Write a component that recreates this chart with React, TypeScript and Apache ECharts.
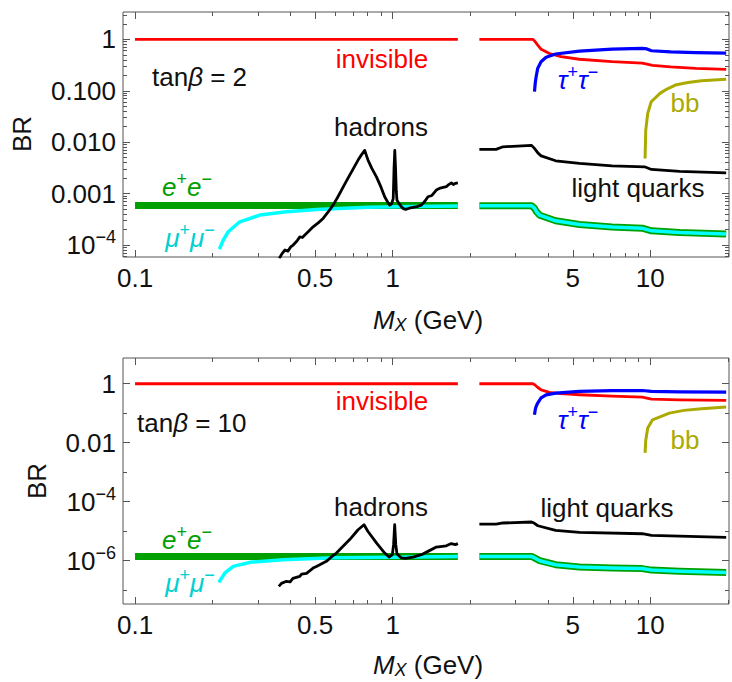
import React, { useEffect, useRef } from 'react';
import * as echarts from 'echarts';

const FONT = '"Liberation Sans", Arial, Helvetica, sans-serif';

// axis ranges (data units)
const X_MIN = 0.0898;
const X_MAX = 20.2;
const Y_TOP_MIN = 5.85e-5;
const Y_TOP_MAX = 3.4;
const Y_BOT_MIN = 3.4e-8;
const Y_BOT_MAX = 7.46;

// ticks
const xMajorTicks = [0.1, 0.5, 1, 5, 10];
const xMajorLabels = ['0.1', '0.5', '1', '5', '10'];
const xMinorTicks = [0.2, 0.3, 0.4, 0.6, 0.7, 0.8, 0.9, 2, 3, 4, 6, 7, 8, 9, 20];

const yTopMajorTicks = [1e-4, 1e-3, 1e-2, 1e-1, 1];
const yTopMajorLabels = ['{b|10}{s|−4}', '0.001', '0.010', '0.100', '1'];
const yTopMinorMantissas = [2, 3, 4, 5, 6, 7, 8, 9];
const yTopMinorDecades = [1e-5, 1e-4, 1e-3, 1e-2, 1e-1, 1];

const yBotMajorTicks = [1e-6, 1e-4, 1e-2, 1];
const yBotMajorLabels = ['{b|10}{s|−6}', '{b|10}{s|−4}', '0.01', '1'];
const yBotMinorTicks = [1e-7, 1e-5, 1e-3, 1e-1];

// ---------- tan(beta) = 2 (top panel) : [M_X (GeV), BR] ----------
const invisibleTopLow = [[0.1, 1], [1.79, 1]];
const invisibleTopHigh = [[2.17, 1], [3.5, 1], [3.56, 0.92], [3.65, 0.78], [3.77, 0.64], [4.06, 0.53], [4.5, 0.46], [5.3, 0.41], [7.1, 0.367], [9.3, 0.345], [9.7, 0.33], [10.2, 0.313], [12, 0.29], [15, 0.272], [19.7, 0.261]];
const tauTop = [[3.551, 0.096], [3.58, 0.15], [3.604, 0.187], [3.655, 0.272], [3.766, 0.367], [3.94, 0.447], [4.29, 0.518], [5.31, 0.59], [7.1, 0.647], [9.3, 0.667], [9.7, 0.65], [10.1, 0.6], [12, 0.57], [15, 0.55], [19.7, 0.541]];
const bbTop = [[9.54, 0.0048], [9.6, 0.0172], [9.77, 0.0363], [10.08, 0.061], [10.9, 0.089], [11.6, 0.108], [12.5, 0.129], [14, 0.145], [15.8, 0.157], [19.7, 0.167]];
const lightTop = [[2.17, 0.00724], [2.52, 0.00724], [2.68, 0.00814], [3.46, 0.00867], [3.55, 0.00757], [3.66, 0.0062], [3.77, 0.0054], [4.29, 0.00435], [5.31, 0.00387], [7.1, 0.00347], [9.5, 0.00332], [10.1, 0.00295], [13, 0.0027], [19.7, 0.00254]];
const hadronsTop = [[0.363, 5.5e-5], [0.372, 6.8e-5], [0.382, 8.0e-5], [0.392, 7.6e-5], [0.402, 9.2e-5], [0.411, 1.0e-4], [0.425, 1.2e-4], [0.436, 1.44e-4], [0.446, 1.4e-4], [0.456, 1.56e-4], [0.472, 1.85e-4], [0.491, 2.26e-4], [0.514, 2.7e-4], [0.537, 3.29e-4], [0.56, 4.3e-4], [0.587, 5.97e-4], [0.61, 8.3e-4], [0.633, 1.17e-3], [0.657, 1.65e-3], [0.681, 2.29e-3], [0.707, 3.2e-3], [0.734, 4.49e-3], [0.755, 5.6e-3], [0.779, 6.9e-3], [0.79, 5.6e-3], [0.802, 4.49e-3], [0.83, 3.1e-3], [0.865, 2.12e-3], [0.9, 1.35e-3], [0.931, 8.67e-4], [0.96, 6.6e-4], [0.974, 5.97e-4], [0.99, 6.3e-4], [1.005, 8e-4], [1.012, 3.0e-3], [1.019, 6.9e-3], [1.026, 3.0e-3], [1.033, 1.1e-3], [1.039, 7.48e-4], [1.06, 6.3e-4], [1.081, 5.54e-4], [1.1, 5.1e-4], [1.123, 4.93e-4], [1.16, 5.2e-4], [1.199, 5.4e-4], [1.24, 5.6e-4], [1.292, 5.97e-4], [1.33, 7e-4], [1.371, 8.67e-4], [1.42, 9.2e-4], [1.477, 1.17e-3], [1.53, 1.28e-3], [1.615, 1.36e-3], [1.65, 1.5e-3], [1.689, 1.62e-3], [1.72, 1.5e-3], [1.75, 1.58e-3], [1.791, 1.62e-3]];
const eeTopLow = [[0.1, 5.9e-4], [1.79, 5.9e-4]];
const eeTopHigh = [[2.17, 5.8e-4], [3.46, 5.8e-4], [3.55, 5.2e-4], [3.62, 4.4e-4], [3.72, 3.8e-4], [4.29, 2.96e-4], [5.31, 2.51e-4], [7.1, 2.25e-4], [9.3, 2.13e-4], [10.1, 1.89e-4], [13, 1.75e-4], [19.7, 1.63e-4]];
const muTopLow = [[0.2125, 8.3e-5], [0.22, 1.25e-4], [0.23, 1.81e-4], [0.255, 2.83e-4], [0.305, 3.82e-4], [0.387, 4.43e-4], [0.506, 4.93e-4], [0.8, 5.4e-4], [1.2, 5.6e-4], [1.79, 5.75e-4]];
const muTopHigh = [[2.17, 5.8e-4], [3.46, 5.8e-4], [3.55, 5.2e-4], [3.62, 4.4e-4], [3.72, 3.8e-4], [4.29, 2.96e-4], [5.31, 2.51e-4], [7.1, 2.25e-4], [9.3, 2.13e-4], [10.1, 1.89e-4], [13, 1.75e-4], [19.7, 1.63e-4]];

// ---------- tan(beta) = 10 (bottom panel) ----------
const invisibleBotLow = [[0.1, 1], [1.79, 1]];
const invisibleBotHigh = [[2.17, 1], [3.5, 1], [3.56, 0.92], [3.65, 0.76], [3.77, 0.62], [4.06, 0.508], [4.5, 0.46], [5.31, 0.424], [7.1, 0.38], [9.3, 0.353], [10.1, 0.302], [13, 0.285], [19.7, 0.272]];
const tauBot = [[3.551, 0.089], [3.58, 0.14], [3.604, 0.17], [3.655, 0.222], [3.766, 0.33], [3.94, 0.42], [4.29, 0.483], [5.31, 0.55], [7.1, 0.58], [9.3, 0.59], [10.1, 0.55], [13, 0.53], [19.7, 0.52]];
const bbBot = [[9.54, 0.0045], [9.6, 0.012], [9.77, 0.0314], [10.2, 0.06], [11.85, 0.101], [13.5, 0.125], [15.8, 0.142], [19.7, 0.162]];
const lightBot = [[2.17, 1.75e-5], [2.52, 1.75e-5], [2.68, 1.9e-5], [3.46, 2.05e-5], [3.55, 1.85e-5], [3.66, 1.53e-5], [4.29, 1.06e-5], [5.31, 9.1e-6], [9.3, 8.2e-6], [10.1, 7.2e-6], [19.7, 6.2e-6]];
const hadronsBot = [[0.3615, 1.35e-7], [0.37, 1.7e-7], [0.387, 2.0e-7], [0.4, 1.9e-7], [0.41, 2.5e-7], [0.436, 2.95e-7], [0.443, 3.5e-7], [0.463, 3.7e-7], [0.491, 5.6e-7], [0.506, 6.4e-7], [0.553, 9.5e-7], [0.587, 1.5e-6], [0.605, 1.82e-6], [0.681, 5.2e-6], [0.734, 1.12e-5], [0.774, 1.66e-5], [0.802, 9.8e-6], [0.865, 4e-6], [0.931, 1.82e-6], [0.968, 1.33e-6], [0.997, 1.6e-6], [1.008, 3.5e-6], [1.018, 1.66e-5], [1.028, 3.5e-6], [1.039, 1.7e-6], [1.081, 1.24e-6], [1.123, 1.2e-6], [1.199, 1.33e-6], [1.292, 1.6e-6], [1.371, 2.07e-6], [1.477, 2.9e-6], [1.615, 3.2e-6], [1.689, 3.8e-6], [1.75, 3.5e-6], [1.791, 3.8e-6]];
const eeBotLow = [[0.1, 1.4e-6], [1.79, 1.4e-6]];
const eeBotHigh = [[2.17, 1.4e-6], [3.46, 1.4e-6], [3.55, 1.25e-6], [3.72, 1.0e-6], [4.29, 7.3e-7], [5.31, 6.1e-7], [7.1, 5.7e-7], [9.3, 5.4e-7], [10.1, 4.8e-7], [13, 4.4e-7], [19.7, 4.0e-7]];
const muBotLow = [[0.2114, 1.84e-7], [0.2234, 3.83e-7], [0.2404, 6.4e-7], [0.279, 8.8e-7], [0.376, 1.08e-6], [0.587, 1.26e-6], [1.0, 1.32e-6], [1.79, 1.38e-6]];
const muBotHigh = [[2.17, 1.4e-6], [3.46, 1.4e-6], [3.55, 1.25e-6], [3.72, 1.0e-6], [4.29, 7.3e-7], [5.31, 6.1e-7], [7.1, 5.7e-7], [9.3, 5.4e-7], [10.1, 4.8e-7], [13, 4.4e-7], [19.7, 4.0e-7]];

const RED = '#ff0000';
const BLUE = '#0000ff';
const GREEN = '#00a000';
const CYAN = '#00ffff';
const CYAN_TEXT = '#00d0d0';
const OLIVE = '#aaaa00';
const BLACK = '#000000';
const FRAME = '#555555';

const lg = (v: number) => Math.log10(v);

function pick(ticks: number[], labels: string[]) {
  return (v: number) => {
    let best = 0;
    let bd = Infinity;
    ticks.forEach((t, i) => {
      const d = Math.abs(t - v);
      if (d < bd) { bd = d; best = i; }
    });
    return labels[best];
  };
}

const labelStyle = { fontSize: 26, fontFamily: FONT, color: '#111' };
const axisRich = {
  b: { fontSize: 26, fontFamily: FONT, color: '#111', lineHeight: 34 },
  s: { fontSize: 18, fontFamily: FONT, color: '#111', lineHeight: 18, verticalAlign: 'top' },
};

function tick(vals: number[], len: number) {
  return { show: true, inside: true, length: len, customValues: vals, lineStyle: { color: FRAME, width: 1 } };
}

const noLine = { show: false, onZero: false };

function makeXAxes(gridIndex: number) {
  const base = { type: 'value', gridIndex, min: lg(X_MIN), max: lg(X_MAX), splitLine: { show: false }, axisLine: noLine };
  const major = xMajorTicks.map(lg);
  const minor = xMinorTicks.map(lg);
  return [
    { ...base, position: 'bottom', axisTick: tick(major, 7), axisLabel: { show: true, customValues: major, formatter: pick(major, xMajorLabels), margin: 8, ...labelStyle } },
    { ...base, position: 'bottom', axisTick: tick(minor, 4), axisLabel: { show: false } },
    { ...base, position: 'top', axisTick: tick(major, 7), axisLabel: { show: false } },
    { ...base, position: 'top', axisTick: tick(minor, 4), axisLabel: { show: false } },
  ];
}

function makeYAxes(gridIndex: number, ymin: number, ymax: number, majorVals: number[], labels: string[], minorVals: number[]) {
  const base = { type: 'value', gridIndex, min: lg(ymin), max: lg(ymax), splitLine: { show: false }, axisLine: noLine };
  const major = majorVals.map(lg);
  const minor = minorVals.filter((v) => v > ymin && v < ymax).map(lg);
  return [
    { ...base, position: 'left', axisTick: tick(major, 7), axisLabel: { show: true, customValues: major, formatter: pick(major, labels), margin: 7, ...labelStyle, rich: axisRich } },
    { ...base, position: 'left', axisTick: tick(minor, 4), axisLabel: { show: false } },
    { ...base, position: 'right', axisTick: tick(major, 7), axisLabel: { show: false } },
    { ...base, position: 'right', axisTick: tick(minor, 4), axisLabel: { show: false } },
  ];
}

function line(pts: number[][], color: string, width: number, panel: number, z: number) {
  return {
    type: 'line',
    data: pts.map(([m, v]) => [lg(m), lg(v)]),
    xAxisIndex: panel * 4,
    yAxisIndex: panel * 4,
    showSymbol: false,
    symbol: 'none',
    silent: true,
    clip: true,
    z,
    lineStyle: { color, width, cap: 'butt', join: 'round' },
    itemStyle: { color },
  };
}

function richFor(color: string, lh = 34) {
  return {
    r: { fill: color, fontSize: 26, fontFamily: FONT, lineHeight: lh },
    i: { fill: color, fontSize: 26, fontFamily: FONT, fontStyle: 'italic', lineHeight: lh },
    s: { fill: color, fontSize: 18, fontFamily: FONT, lineHeight: 18, verticalAlign: 'top' },
    d: { fill: color, fontSize: 18, fontFamily: FONT, fontStyle: 'italic', lineHeight: 18, verticalAlign: 'bottom' },
  };
}

function label(text: string, x: number, y: number, color: string, align = 'center', rotation = 0, lh = 34) {
  return {
    type: 'text',
    x,
    y,
    rotation,
    silent: true,
    z: 100,
    style: {
      text,
      fill: color,
      font: `26px ${FONT}`,
      align,
      textAlign: align,
      verticalAlign: 'middle',
      textVerticalAlign: 'middle',
      rich: richFor(color, lh),
    },
  };
}

const topMinor = yTopMinorDecades.flatMap((d) => yTopMinorMantissas.map((m) => m * d));

function buildOption() {
  const xAxis = [...makeXAxes(0), ...makeXAxes(1)];
  const yAxis = [
    ...makeYAxes(0, Y_TOP_MIN, Y_TOP_MAX, yTopMajorTicks, yTopMajorLabels, topMinor),
    ...makeYAxes(1, Y_BOT_MIN, Y_BOT_MAX, yBotMajorTicks, yBotMajorLabels, yBotMinorTicks),
  ];
  const series: any[] = [];
  const panels = [
    { ee: [eeTopLow, eeTopHigh], mu: [muTopLow, muTopHigh], had: hadronsTop, light: lightTop, inv: [invisibleTopLow, invisibleTopHigh], tau: tauTop, bb: bbTop },
    { ee: [eeBotLow, eeBotHigh], mu: [muBotLow, muBotHigh], had: hadronsBot, light: lightBot, inv: [invisibleBotLow, invisibleBotHigh], tau: tauBot, bb: bbBot },
  ];
  panels.forEach((p, i) => {
    p.ee.forEach((d) => series.push(line(d, GREEN, 7, i, 2)));
    p.mu.forEach((d) => series.push(line(d, CYAN, 3.5, i, 3)));
    series.push(line(p.had, BLACK, 2.8, i, 4));
    series.push(line(p.light, BLACK, 2.8, i, 4));
    p.inv.forEach((d) => series.push(line(d, RED, 2.8, i, 5)));
    series.push(line(p.tau, BLUE, 3.2, i, 6));
    series.push(line(p.bb, OLIVE, 3, i, 6));
  });

  const graphic = [
    // top panel
    label('{r|BR}', 22, 134, '#111', 'center', Math.PI / 2),
    label('{i|M}{d|X}{r| (GeV)}', 428, 320, '#111', 'center', 0, 28),
    label('{r|invisible}', 382, 59, RED),
    label('{r|tan}{i|β}{r| = 2}', 152, 77, '#111', 'left'),
    label('{r|hadrons}', 381, 127, '#111'),
    label('{i|e}{s|+}{i|e}{s|−}', 187, 187, GREEN),
    label('{i|μ}{s|+}{i|μ}{s|−}', 190, 238, CYAN_TEXT),
    label('{i|τ}{s|+}{i|τ}{s|−}', 578, 80, BLUE),
    label('{r|bb}', 685, 103, OLIVE),
    label('{r|light quarks}', 638, 188, '#111'),
    // bottom panel
    label('{r|BR}', 37, 481, '#111', 'center', Math.PI / 2),
    label('{i|M}{d|X}{r| (GeV)}', 428, 665, '#111', 'center', 0, 28),
    label('{r|invisible}', 382, 401, RED),
    label('{r|tan}{i|β}{r| = 10}', 137, 423, '#111', 'left'),
    label('{r|hadrons}', 381, 507, '#111'),
    label('{r|light quarks}', 607, 508, '#111'),
    label('{i|e}{s|+}{i|e}{s|−}', 187, 540, GREEN),
    label('{i|μ}{s|+}{i|μ}{s|−}', 190, 583, CYAN_TEXT),
    label('{i|τ}{s|+}{i|τ}{s|−}', 578, 420, BLUE),
    label('{r|bb}', 685, 440, OLIVE),
  ];

  return {
    animation: false,
    backgroundColor: '#ffffff',
    grid: [
      { left: 123, top: 12, width: 606, height: 245, show: true, borderColor: FRAME, borderWidth: 1, backgroundColor: 'transparent' },
      { left: 123, top: 358, width: 606, height: 246, show: true, borderColor: FRAME, borderWidth: 1, backgroundColor: 'transparent' },
    ],
    xAxis,
    yAxis,
    series,
    graphic,
  };
}

export default function App() {
  const ref = useRef<HTMLDivElement>(null);
  useEffect(() => {
    if (!ref.current) return;
    const chart = echarts.init(ref.current, null, { renderer: 'svg' });
    chart.setOption(buildOption() as any);
    return () => chart.dispose();
  }, []);
  return (
    <div
      ref={ref}
      style={{ position: 'fixed', left: 0, top: 0, width: 732, height: 682, background: '#fff' }}
    />
  );
}
